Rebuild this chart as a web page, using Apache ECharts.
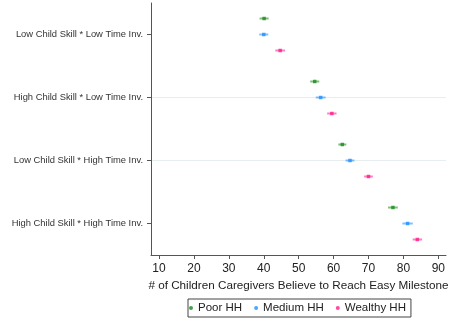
<!DOCTYPE html>
<html>
<head>
<meta charset="utf-8">
<script src="https://cdn.jsdelivr.net/npm/echarts@6/dist/echarts.min.js"></script>
<style>
  html, body { margin: 0; padding: 0; background: #fff; }
  #chart { width: 450px; height: 321px; }
</style>
</head>
<body>
<div id="chart"></div>
<script>
// Scenario groups, top to bottom
const categories = [
  'Low Child Skill * Low Time Inv.',
  'High Child Skill * Low Time Inv.',
  'Low Child Skill * High Time Inv.',
  'High Child Skill * High Time Inv.'
];
const xTicks = [10, 20, 30, 40, 50, 60, 70, 80, 90];

// Mean number of children and half-width of the confidence interval, per group
const poorMean = [40.1, 54.6, 62.5, 77.0];
const poorCI = [1.3, 1.3, 1.15, 1.4];
const mediumMean = [40.0, 56.3, 64.7, 81.2];
const mediumCI = [1.3, 1.4, 1.25, 1.5];
const wealthyMean = [44.7, 59.5, 70.0, 84.0];
const wealthyCI = [1.4, 1.35, 1.25, 1.35];

const seriesNames = ['Poor HH', 'Medium HH', 'Wealthy HH'];
const colors = ['#1a8a1a', '#1e90ff', '#ff1a8c'];
const barColors = ['rgba(26,138,26,0.55)', 'rgba(30,144,255,0.55)', 'rgba(255,26,140,0.55)'];
// vertical offset of each household type inside its group band
const rowOffset = [-0.254, 0, 0.254];

const means = [poorMean, mediumMean, wealthyMean];
const cis = [poorCI, mediumCI, wealthyCI];

const series = [];
means.forEach((m, s) => {
  const rows = m.map((v, i) => [v - cis[s][i], v + cis[s][i], i + 0.5 + rowOffset[s]]);
  series.push({
    type: 'custom',
    name: seriesNames[s] + ' CI',
    silent: true,
    data: rows,
    encode: { x: [0, 1], y: 2 },
    renderItem: function (params, api) {
      const a = api.coord([api.value(0), api.value(2)]);
      const b = api.coord([api.value(1), api.value(2)]);
      return {
        type: 'line',
        shape: { x1: a[0], y1: a[1], x2: b[0], y2: b[1] },
        style: { stroke: barColors[s], lineWidth: 2 }
      };
    },
    z: 2
  });
  series.push({
    type: 'scatter',
    name: seriesNames[s],
    data: m.map((v, i) => [v, i + 0.5 + rowOffset[s]]),
    symbol: 'rect',
    symbolSize: 3.5,
    itemStyle: { color: colors[s] },
    z: 3
  });
});

const chart = echarts.init(document.getElementById('chart'), null, { renderer: 'canvas' });
chart.setOption({
  animation: false,
  textStyle: { fontFamily: 'Liberation Sans' },
  grid: { left: 151, right: 4, top: 3, bottom: 66, containLabel: false, outerBoundsMode: 'none' },
  xAxis: {
    type: 'value',
    position: 'bottom',
    min: 7.7,
    max: 92.2,
    name: '# of Children Caregivers Believe to Reach Easy Milestone',
    nameLocation: 'middle',
    nameGap: 21,
    nameTextStyle: { fontSize: 11.7, color: '#222', fontFamily: 'Liberation Sans' },
    axisLine: { show: true, onZero: false, lineStyle: { color: '#555', width: 1 } },
    axisTick: { show: true, length: 4, customValues: xTicks, lineStyle: { color: '#555' } },
    axisLabel: { customValues: xTicks, fontSize: 12, color: '#222', margin: 8 },
    splitLine: { show: false }
  },
  yAxis: {
    type: 'value',
    position: 'left',
    min: 0,
    max: 4,
    interval: 1,
    inverse: true,
    axisLine: { show: true, onZero: false, lineStyle: { color: '#555', width: 1 } },
    axisTick: { show: true, length: 4, customValues: [0.5, 1.5, 2.5, 3.5], lineStyle: { color: '#555' } },
    axisLabel: {
      customValues: [0.5, 1.5, 2.5, 3.5],
      formatter: v => categories[Math.floor(v)],
      fontSize: 9.4,
      color: '#333',
      margin: 8
    },
    splitLine: { show: true, showMinLine: false, showMaxLine: false, lineStyle: { color: '#e6eef0', width: 1 } }
  },
  legend: {
    data: seriesNames,
    left: 188,
    top: 299,
    icon: 'circle',
    itemWidth: 4,
    itemHeight: 4,
    itemGap: 12,
    padding: [3, 5, 3, 1],
    borderColor: '#444',
    borderWidth: 1,
    textStyle: { fontSize: 11.5, color: '#222', fontFamily: 'Liberation Sans' }
  },
  series: series
});
</script>
</body>
</html>
